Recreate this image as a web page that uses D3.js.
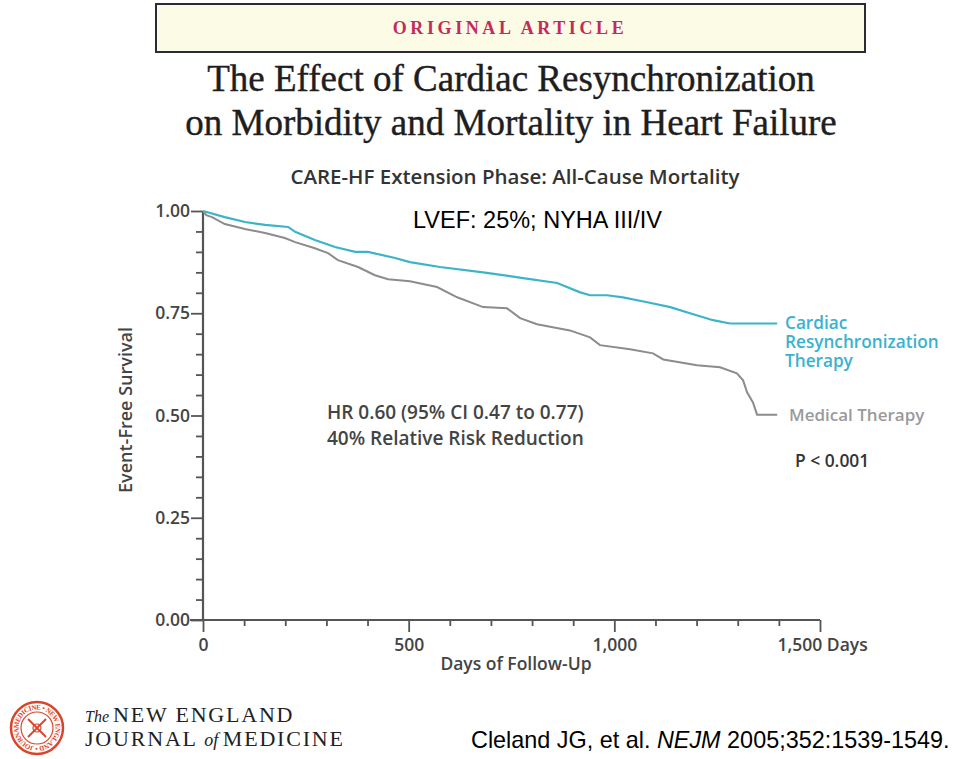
<!DOCTYPE html>
<html><head><meta charset="utf-8">
<script src="https://cdn.jsdelivr.net/npm/d3@7"></script>
<style>body{margin:0;background:#fff}svg{display:block}</style>
</head><body>
<svg id="c" width="960" height="759"></svg>
<script>
// ---- data ----
const crtDays = [0,53,102,151,207,224,272,321,370,401,467,503,576,681,778,861,917,941,982,1021,1080,1136,1184,1240,1281,1396];
const crtSurv = [1.0,0.985,0.973,0.966,0.961,0.949,0.929,0.912,0.900,0.900,0.885,0.875,0.863,0.850,0.836,0.824,0.801,0.794,0.794,0.789,0.777,0.765,0.750,0.733,0.725,0.725];
const medDays = [0,8,22,53,102,151,199,224,272,304,328,377,418,450,503,569,618,681,739,771,812,892,941,965,1038,1094,1119,1201,1257,1298,1313,1323,1337,1347,1396];
const medSurv = [1.0,0.99,0.985,0.968,0.956,0.946,0.934,0.924,0.909,0.897,0.880,0.863,0.843,0.833,0.828,0.814,0.789,0.765,0.762,0.738,0.723,0.708,0.691,0.672,0.662,0.652,0.637,0.623,0.618,0.603,0.586,0.556,0.532,0.502,0.502];
const yTicks = [0, 0.25, 0.5, 0.75, 1.0];
const yTickLabels = ["0.00","0.25","0.50","0.75","1.00"];
const yMinor = [0.05,0.1,0.15,0.2,0.3,0.35,0.4,0.45,0.55,0.6,0.65,0.7,0.8,0.85,0.9,0.95];
const xTicks = [0, 500, 1000, 1500];
const xTickLabels = ["0","500","1,000","1,500 Days"];
const xMinor = [100,200,300,400,600,700,800,900,1100,1200,1300,1400];
const seriesNames = ["Cardiac|Resynchronization|Therapy", "Medical Therapy"];

const svg = d3.select("#c");
const x = d3.scaleLinear().domain([0,1500]).range([203,820]);
const y = d3.scaleLinear().domain([0,1]).range([620,211]);
const sansB = "'Open Sans', 'DejaVu Sans', sans-serif";
const serif = "'Liberation Serif', 'DejaVu Serif', serif";
const arial = "'Liberation Sans', Arial, sans-serif";

// ---- header box ----
svg.append("rect").attr("x",156).attr("y",4).attr("width",709).attr("height",48)
  .attr("fill","#fbfbe6").attr("stroke","#2a2a3a").attr("stroke-width",2);
svg.append("text").attr("x",510).attr("y",34).attr("text-anchor","middle")
  .attr("font-family",serif).attr("font-weight","bold").attr("font-size",18).attr("letter-spacing",3.6)
  .attr("fill","#c42a5c").text("ORIGINAL ARTICLE");

// ---- title ----
svg.append("text").attr("x",511).attr("y",91).attr("text-anchor","middle")
  .attr("font-family",serif).attr("font-size",37).attr("fill","#1e1e1e")
  .attr("stroke","#1e1e1e").attr("stroke-width",0.4)
  .text("The Effect of Cardiac Resynchronization");
svg.append("text").attr("x",511).attr("y",135).attr("text-anchor","middle")
  .attr("font-family",serif).attr("font-size",37).attr("fill","#1e1e1e")
  .attr("stroke","#1e1e1e").attr("stroke-width",0.4)
  .text("on Morbidity and Mortality in Heart Failure");

svg.append("text").attr("x",515).attr("y",184).attr("text-anchor","middle")
  .attr("font-family",sansB).attr("font-weight",600).attr("font-size",20.5).attr("fill","#333")
  .text("CARE-HF Extension Phase: All-Cause Mortality");

// ---- axes ----
const gy = svg.append("g").attr("transform","translate(203,0)");
gy.call(d3.axisLeft(y).tickValues(yTicks).tickSize(12).tickFormat((d,i)=>yTickLabels[i]));
const gym = svg.append("g").attr("transform","translate(203,0)");
gym.call(d3.axisLeft(y).tickValues(yMinor).tickSize(7).tickFormat(""));
gym.select(".domain").remove();
const gx = svg.append("g").attr("transform","translate(0,620)");
gx.call(d3.axisBottom(x).tickValues(xTicks).tickSize(12).tickFormat((d,i)=>xTickLabels[i]));
const gxm = svg.append("g").attr("transform","translate(0,620)");
gxm.call(d3.axisBottom(x).tickValues(xMinor).tickSize(6).tickFormat(""));
gxm.select(".domain").remove();
[gy,gym,gx,gxm].forEach(g=>{
  g.selectAll("path.domain").attr("stroke","#555").attr("stroke-width",2.2);
  g.selectAll(".tick line").attr("stroke","#555").attr("stroke-width",1.8);
  g.selectAll(".tick text").attr("font-family",sansB).attr("font-weight",600)
    .attr("font-size",17.5).attr("fill","#444");
});
gy.select(".domain").attr("d","M0,620V211");
gx.select(".domain").attr("d","M190,0H820");
gy.selectAll(".tick text").attr("x",-13);
gx.selectAll(".tick text").attr("y",19);
gx.selectAll(".tick").filter(d=>d===1500).select("text").attr("text-anchor","start").attr("dx",-43);

svg.append("text").attr("transform","translate(132,410) rotate(-90)").attr("text-anchor","middle")
  .attr("font-family",sansB).attr("font-weight",600).attr("font-size",18).attr("fill","#444")
  .text("Event-Free Survival");
svg.append("text").attr("x",516).attr("y",670).attr("text-anchor","middle")
  .attr("font-family",sansB).attr("font-weight",600).attr("font-size",17.5).attr("fill","#444")
  .text("Days of Follow-Up");

// ---- curves ----
const line = d3.line().x(d=>x(d[0])).y(d=>y(d[1]));
svg.append("path").datum(medDays.map((d,i)=>[d,medSurv[i]]))
  .attr("d",line).attr("fill","none").attr("stroke","#8c8c8c").attr("stroke-width",2);
svg.append("path").datum(crtDays.map((d,i)=>[d,crtSurv[i]]))
  .attr("d",line).attr("fill","none").attr("stroke","#3cb4c8").attr("stroke-width",2.2);

// ---- annotations ----
svg.append("text").attr("x",413).attr("y",228).attr("font-family",arial)
  .attr("font-size",23.5).attr("fill","#000").text("LVEF: 25%; NYHA III/IV");
svg.append("text").attr("x",327).attr("y",419).attr("font-family",sansB).attr("font-weight",600)
  .attr("font-size",19).attr("fill","#444").text("HR 0.60 (95% CI 0.47 to 0.77)");
svg.append("text").attr("x",327).attr("y",445).attr("font-family",sansB).attr("font-weight",600)
  .attr("font-size",19).attr("fill","#444").text("40% Relative Risk Reduction");

const crtLab = seriesNames[0].split("|");
const crtText = svg.append("text").attr("x",785).attr("y",329)
  .attr("font-family",sansB).attr("font-weight",600).attr("font-size",17.2).attr("fill","#3ab2cf");
crtLab.forEach((t,i)=>crtText.append("tspan").attr("x",785).attr("dy",i===0?0:19).text(t));
svg.append("text").attr("x",789).attr("y",421).attr("font-family",sansB).attr("font-weight",600)
  .attr("font-size",17).attr("fill","#9a9a9a").text(seriesNames[1]);
svg.append("text").attr("x",795).attr("y",467).attr("font-family",sansB).attr("font-weight",600)
  .attr("font-size",17.4).attr("fill","#333").text("P < 0.001");

// ---- NEJM logo ----
const seal = svg.append("g").attr("transform","translate(37,728)");
seal.append("circle").attr("r",26).attr("fill","#fff").attr("stroke","#d9452b").attr("stroke-width",2.5);
seal.append("circle").attr("r",16).attr("fill","none").attr("stroke","#d9452b").attr("stroke-width",1.2);
seal.append("path").attr("id","sealArc").attr("d","M-21,0A21,21 0 1,1 21,0A21,21 0 1,1 -21,0").attr("fill","none");
seal.append("text").attr("font-family",serif).attr("font-size",7).attr("fill","#d9452b")
  .attr("font-weight","bold").attr("dy",2.5)
  .append("textPath").attr("href","#sealArc").text("MEDICINE • NEW ENGLAND • JOURNAL OF •");
seal.append("path").attr("d","M-9,-9L9,9M9,-9L-9,9").attr("stroke","#d9452b").attr("stroke-width",1.8);
seal.append("circle").attr("r",4).attr("fill","none").attr("stroke","#d9452b").attr("stroke-width",1.2);

svg.append("text").attr("x",85).attr("y",722).attr("font-family",serif).attr("fill","#222")
  .call(t=>{t.append("tspan").attr("font-size",16).attr("font-style","italic").text("The ");
            t.append("tspan").attr("font-size",22).attr("letter-spacing",1.8).text("NEW ENGLAND");});
svg.append("text").attr("x",85).attr("y",746).attr("font-family",serif).attr("fill","#222")
  .call(t=>{t.append("tspan").attr("font-size",22).attr("letter-spacing",1.8).text("JOURNAL ");
            t.append("tspan").attr("font-size",18).attr("font-style","italic").text("of ");
            t.append("tspan").attr("font-size",22).attr("letter-spacing",1.8).text("MEDICINE");});

svg.append("text").attr("x",471).attr("y",748).attr("font-family",arial)
  .attr("font-size",23.4).attr("fill","#000")
  .call(t=>{t.append("tspan").text("Cleland JG, et al. ");
            t.append("tspan").attr("font-style","italic").text("NEJM");
            t.append("tspan").text(" 2005;352:1539-1549.");});
</script>
</body></html>
